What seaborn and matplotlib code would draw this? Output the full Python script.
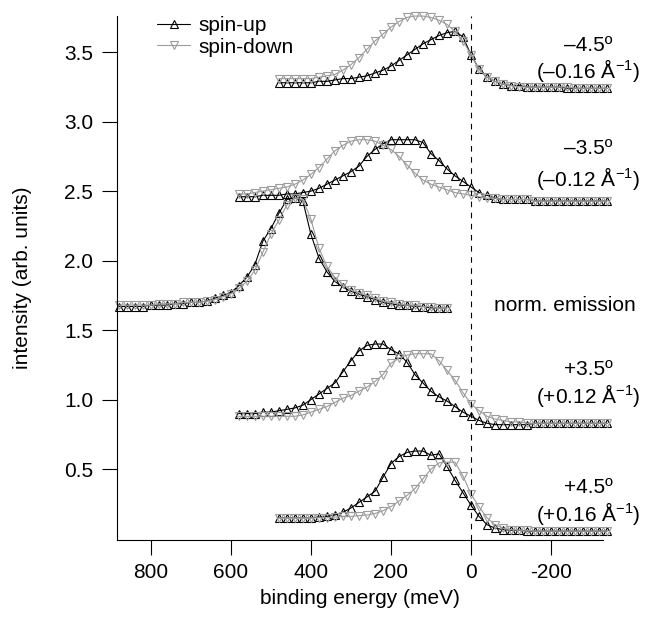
import numpy as np
import pandas as pd
import matplotlib
matplotlib.use("Agg")
import matplotlib.pyplot as plt
import seaborn as sns

sns.set_style("ticks")
plt.rcParams["font.family"] = ["Liberation Sans", "DejaVu Sans"]
plt.rcParams["mathtext.fontset"] = "custom"
plt.rcParams["mathtext.rm"] = "Liberation Sans"
plt.rcParams["mathtext.default"] = "regular"
plt.rcParams["axes.unicode_minus"] = False
for k in ["text.color", "axes.labelcolor", "xtick.color", "ytick.color",
          "axes.edgecolor"]:
    plt.rcParams[k] = "black"

# energy grids (meV), 20 meV steps
e_off = np.arange(480, -341, -20)     # +-4.5 deg
e_mid = np.arange(580, -341, -20)     # +-3.5 deg
e_norm = np.arange(880, 59, -20)      # normal emission

# -4.5 deg
m45_up = [3.28, 3.28, 3.28, 3.28, 3.28, 3.29, 3.29, 3.30, 3.31, 3.31,
          3.32, 3.33, 3.35, 3.37, 3.40, 3.44, 3.48, 3.52, 3.56, 3.59,
          3.62, 3.64, 3.65, 3.61, 3.48, 3.38, 3.32, 3.29, 3.27, 3.26,
          3.26, 3.25, 3.25, 3.25, 3.25, 3.25, 3.24, 3.24, 3.24, 3.24,
          3.24, 3.24]
m45_dn = [3.31, 3.31, 3.31, 3.31, 3.31, 3.32, 3.33, 3.34, 3.37, 3.41,
          3.46, 3.52, 3.58, 3.63, 3.68, 3.72, 3.75, 3.76, 3.76, 3.75,
          3.73, 3.70, 3.65, 3.58, 3.48, 3.38, 3.32, 3.29, 3.27, 3.26,
          3.25, 3.25, 3.25, 3.25, 3.25, 3.25, 3.25, 3.24, 3.24, 3.24,
          3.24, 3.24]

# -3.5 deg
m35_up = [2.46, 2.46, 2.46, 2.47, 2.47, 2.47, 2.48, 2.48, 2.49, 2.50,
          2.52, 2.55, 2.58, 2.61, 2.64, 2.68, 2.75, 2.80, 2.84, 2.87,
          2.87, 2.87, 2.87, 2.85, 2.77, 2.72, 2.66, 2.61, 2.57, 2.53,
          2.49, 2.47, 2.45, 2.44, 2.44, 2.44, 2.44, 2.43, 2.43, 2.43,
          2.43, 2.43, 2.43, 2.43, 2.43, 2.43, 2.43]
m35_dn = [2.48, 2.48, 2.49, 2.50, 2.51, 2.52, 2.53, 2.55, 2.58, 2.62,
          2.67, 2.73, 2.79, 2.83, 2.86, 2.87, 2.87, 2.86, 2.83, 2.80,
          2.75, 2.69, 2.63, 2.58, 2.55, 2.53, 2.51, 2.49, 2.48, 2.47,
          2.46, 2.45, 2.45, 2.44, 2.44, 2.44, 2.44, 2.43, 2.43, 2.43,
          2.43, 2.43, 2.43, 2.43, 2.43, 2.43, 2.43]

# normal emission
n_up = [1.67, 1.67, 1.67, 1.67, 1.68, 1.68, 1.68, 1.69, 1.69, 1.70,
        1.70, 1.71, 1.73, 1.75, 1.77, 1.82, 1.88, 1.97, 2.14, 2.23,
        2.34, 2.44, 2.45, 2.43, 2.19, 2.02, 1.92, 1.85, 1.81, 1.78,
        1.76, 1.74, 1.72, 1.70, 1.69, 1.68, 1.68, 1.67, 1.67, 1.66,
        1.66, 1.66]
n_dn = [1.68, 1.68, 1.68, 1.68, 1.68, 1.69, 1.69, 1.69, 1.70, 1.70,
        1.70, 1.71, 1.72, 1.74, 1.76, 1.80, 1.85, 1.93, 2.06, 2.19,
        2.29, 2.40, 2.45, 2.44, 2.30, 2.09, 1.96, 1.88, 1.83, 1.79,
        1.77, 1.75, 1.73, 1.71, 1.70, 1.69, 1.68, 1.68, 1.67, 1.67,
        1.66, 1.66]

# +3.5 deg
p35_up = [0.90, 0.90, 0.90, 0.91, 0.91, 0.92, 0.93, 0.94, 0.96, 1.00,
          1.04, 1.08, 1.12, 1.20, 1.28, 1.35, 1.39, 1.40, 1.40, 1.36,
          1.33, 1.27, 1.18, 1.12, 1.06, 1.02, 0.99, 0.95, 0.91, 0.88,
          0.85, 0.83, 0.82, 0.82, 0.82, 0.82, 0.82, 0.83, 0.83, 0.83,
          0.83, 0.83, 0.83, 0.83, 0.83, 0.83, 0.83]
p35_dn = [0.88, 0.88, 0.88, 0.88, 0.88, 0.88, 0.88, 0.88, 0.89, 0.91,
          0.93, 0.95, 0.98, 1.01, 1.03, 1.06, 1.09, 1.13, 1.18, 1.26,
          1.30, 1.32, 1.33, 1.33, 1.33, 1.28, 1.21, 1.14, 1.05, 0.97,
          0.92, 0.88, 0.86, 0.85, 0.84, 0.84, 0.83, 0.83, 0.83, 0.83,
          0.83, 0.83, 0.83, 0.83, 0.83, 0.83, 0.83]

# +4.5 deg
p45_up = [0.15, 0.15, 0.15, 0.15, 0.15, 0.155, 0.16, 0.17, 0.19, 0.22,
          0.26, 0.30, 0.34, 0.44, 0.54, 0.59, 0.62, 0.63, 0.63, 0.60,
          0.61, 0.52, 0.42, 0.33, 0.24, 0.16, 0.10, 0.075, 0.065, 0.06,
          0.06, 0.055, 0.055, 0.055, 0.055, 0.055, 0.055, 0.055, 0.055,
          0.055, 0.055, 0.055]
p45_dn = [0.15, 0.15, 0.15, 0.15, 0.15, 0.15, 0.15, 0.155, 0.16, 0.16,
          0.165, 0.17, 0.18, 0.20, 0.23, 0.27, 0.31, 0.36, 0.43, 0.50,
          0.545, 0.55, 0.55, 0.45, 0.32, 0.23, 0.15, 0.10, 0.075, 0.065,
          0.06, 0.06, 0.055, 0.055, 0.055, 0.055, 0.055, 0.055, 0.055,
          0.055, 0.055, 0.055]

pairs = [(e_off, m45_up, m45_dn), (e_mid, m35_up, m35_dn),
         (e_norm, n_up, n_dn), (e_mid, p35_up, p35_dn),
         (e_off, p45_up, p45_dn)]

labels = [("–4.5º", "(–0.16 Å$^{-1}$)", 3.55, 3.37),
          ("–3.5º", "(–0.12 Å$^{-1}$)", 2.81, 2.59),
          ("+3.5º", "(+0.12 Å$^{-1}$)", 1.22, 1.03),
          ("+4.5º", "(+0.16 Å$^{-1}$)", 0.37, 0.18)]

UP = "black"
DN = "#9c9c9c"

fig = plt.figure(figsize=(6.53, 6.17), dpi=100)
ax = fig.add_axes([0.1787, 0.1248, 0.7443, 0.8492])

for i, (e, up, dn) in enumerate(pairs):
    sns.lineplot(x=e, y=up, ax=ax, color=UP, marker="^", markersize=6.3,
                 mfc="none", mec=UP, mew=0.8, lw=0.8, clip_on=False,
                 label="spin-up" if i == 0 else None)
    sns.lineplot(x=e, y=dn, ax=ax, color=DN, marker="v", markersize=6.3,
                 mfc="none", mec=DN, mew=0.8, lw=0.8, clip_on=False,
                 label="spin-down" if i == 0 else None)

ax.axvline(0, color="black", lw=0.8, ls=(0, (5, 5)))

for top, bot, y1, y2 in labels:
    ax.text(-292, y1, top, ha="center", va="center", fontsize=15)
    ax.text(-292, y2, bot, ha="center", va="center", fontsize=15)
ax.text(-235, 1.68, "norm. emission", ha="center", va="center", fontsize=15)

ax.set_xlim(885, -329)
ax.set_ylim(-0.01, 3.76)
ax.set_xticks([800, 600, 400, 200, 0, -200])
ax.set_xticklabels(["800", "600", "400", "200", "0", "-200"])
ax.set_yticks([0.5, 1.0, 1.5, 2.0, 2.5, 3.0, 3.5])
ax.set_yticklabels(["0.5", "1.0", "1.5", "2.0", "2.5", "3.0", "3.5"])
ax.tick_params(direction="out", length=10.8, width=0.8, pad=6,
               labelsize=15, color="black", labelcolor="black")
for s in ["left", "bottom"]:
    ax.spines[s].set_linewidth(0.8)
    ax.spines[s].set_color("black")
sns.despine(ax=ax)

ax.set_xlabel("binding energy (meV)", fontsize=15, labelpad=5)
ax.set_ylabel("intensity (arb. units)", fontsize=15, labelpad=23)

ax.legend(loc="upper left", bbox_to_anchor=(0.083, 1.0), frameon=False,
          fontsize=15, borderpad=0, borderaxespad=0, handlelength=1.6,
          handletextpad=0.4, labelspacing=0.12, labelcolor="black")

fig.savefig("out.png", dpi=100)
